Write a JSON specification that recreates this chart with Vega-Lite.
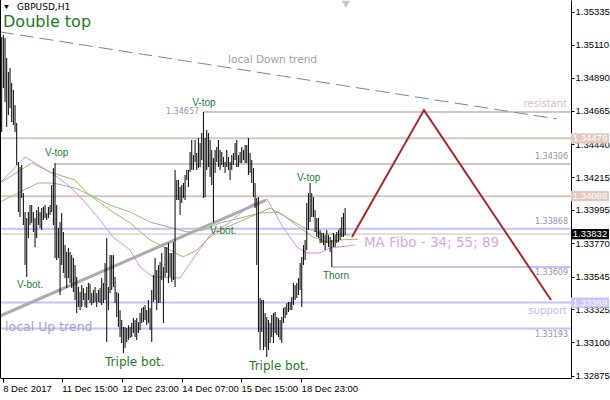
{
"$schema": "https://vega.github.io/schema/vega-lite/v6.json",
"width": 571, "height": 378,
"autosize": {"type": "none"},
"padding": {"left": 0, "top": 0, "right": 39, "bottom": 22},
"background": "white",
"config": {"view": {"stroke": null}, "axis": {"grid": false}},
"datasets": {
"bars": [
{"i":0,"p":1.35164,"l":1.34522},{"i":1,"p":1.35177,"l":1.34819},{"i":2,"p":1.35157,"l":1.34724},{"i":3,"p":1.35022,"l":1.34556},{"i":4,"p":1.34927,"l":1.34637},{"i":5,"p":1.34954,"l":1.34684},{"i":6,"p":1.34853,"l":1.34589},{"i":7,"p":1.34806,"l":1.34569},{"i":8,"p":1.34704,"l":1.34522},{"i":9,"p":1.34583,"l":1.34299},
{"i":10,"p":1.34319,"l":1.33981},{"i":11,"p":1.34285,"l":1.33947},{"i":12,"p":1.34299,"l":1.34076},{"i":13,"p":1.34109,"l":1.33893},{"i":14,"p":1.33981,"l":1.33623},{"i":15,"p":1.3394,"l":1.33542},{"i":16,"p":1.33981,"l":1.33805},{"i":17,"p":1.34028,"l":1.33893},{"i":18,"p":1.34028,"l":1.33907},{"i":19,"p":1.33981,"l":1.33846},
{"i":20,"p":1.3394,"l":1.33744},{"i":21,"p":1.33994,"l":1.33805},{"i":22,"p":1.34015,"l":1.33893},{"i":23,"p":1.33981,"l":1.33873},{"i":24,"p":1.34008,"l":1.33859},{"i":25,"p":1.34015,"l":1.33927},{"i":26,"p":1.34028,"l":1.3394},{"i":27,"p":1.33974,"l":1.33927},{"i":28,"p":1.34015,"l":1.3394},{"i":29,"p":1.34028,"l":1.33961},
{"i":30,"p":1.34163,"l":1.33981},{"i":31,"p":1.34278,"l":1.33893},{"i":32,"p":1.34312,"l":1.3367},{"i":33,"p":1.34028,"l":1.33656},{"i":34,"p":1.33873,"l":1.3367},{"i":35,"p":1.33913,"l":1.3342},{"i":36,"p":1.33974,"l":1.33623},{"i":37,"p":1.33846,"l":1.33569},{"i":38,"p":1.33758,"l":1.33535},{"i":39,"p":1.33711,"l":1.33467},
{"i":40,"p":1.33738,"l":1.33535},{"i":41,"p":1.33711,"l":1.33501},{"i":42,"p":1.3369,"l":1.33467},{"i":43,"p":1.3367,"l":1.3344},{"i":44,"p":1.33623,"l":1.33386},{"i":45,"p":1.33542,"l":1.33298},{"i":46,"p":1.33474,"l":1.33339},{"i":47,"p":1.3344,"l":1.33318},{"i":48,"p":1.33487,"l":1.33339},{"i":49,"p":1.33467,"l":1.33386},
{"i":50,"p":1.33433,"l":1.33339},{"i":51,"p":1.33474,"l":1.33332},{"i":52,"p":1.33501,"l":1.33386},{"i":53,"p":1.33494,"l":1.33366},{"i":54,"p":1.33433,"l":1.33352},{"i":55,"p":1.33454,"l":1.33366},{"i":56,"p":1.33474,"l":1.33373},{"i":57,"p":1.33433,"l":1.33339},{"i":58,"p":1.33454,"l":1.33373},{"i":59,"p":1.33467,"l":1.33366},
{"i":60,"p":1.33535,"l":1.33352},{"i":61,"p":1.33501,"l":1.33366},{"i":62,"p":1.33636,"l":1.33386},{"i":63,"p":1.33805,"l":1.33102},{"i":64,"p":1.33474,"l":1.33318},{"i":65,"p":1.3369,"l":1.33433},{"i":66,"p":1.3369,"l":1.33454},{"i":67,"p":1.3369,"l":1.33474},{"i":68,"p":1.33542,"l":1.33366},{"i":69,"p":1.3344,"l":1.33271},
{"i":70,"p":1.33433,"l":1.33204},{"i":71,"p":1.33318,"l":1.33136},{"i":72,"p":1.33251,"l":1.33095},{"i":73,"p":1.33204,"l":1.33028},{"i":74,"p":1.33204,"l":1.33062},{"i":75,"p":1.33197,"l":1.33102},{"i":76,"p":1.33217,"l":1.33116},{"i":77,"p":1.33204,"l":1.33129},{"i":78,"p":1.33231,"l":1.33136},{"i":79,"p":1.33264,"l":1.33163},
{"i":80,"p":1.33251,"l":1.33136},{"i":81,"p":1.33264,"l":1.33116},{"i":82,"p":1.33237,"l":1.33163},{"i":83,"p":1.33298,"l":1.33183},{"i":84,"p":1.33332,"l":1.33231},{"i":85,"p":1.33339,"l":1.33237},{"i":86,"p":1.33352,"l":1.33251},{"i":87,"p":1.33318,"l":1.33217},{"i":88,"p":1.33386,"l":1.33231},{"i":89,"p":1.33332,"l":1.33183},
{"i":90,"p":1.33454,"l":1.33102},{"i":91,"p":1.33555,"l":1.33373},{"i":92,"p":1.3367,"l":1.33386},{"i":93,"p":1.33589,"l":1.33318},{"i":94,"p":1.33623,"l":1.33366},{"i":95,"p":1.33643,"l":1.33366},{"i":96,"p":1.33704,"l":1.33521},{"i":97,"p":1.33609,"l":1.33231},{"i":98,"p":1.33744,"l":1.33542},{"i":99,"p":1.33744,"l":1.33569},
{"i":100,"p":1.33771,"l":1.33501},{"i":101,"p":1.33704,"l":1.33542},{"i":102,"p":1.33704,"l":1.33508},{"i":103,"p":1.33778,"l":1.33521},{"i":104,"p":1.34265,"l":1.33474},{"i":105,"p":1.34197,"l":1.34062},{"i":106,"p":1.34197,"l":1.34062},{"i":107,"p":1.3415,"l":1.33961},{"i":108,"p":1.34163,"l":1.34042},{"i":109,"p":1.34177,"l":1.34076},
{"i":110,"p":1.34231,"l":1.34062},{"i":111,"p":1.34265,"l":1.34197},{"i":112,"p":1.34265,"l":1.3415},{"i":113,"p":1.34387,"l":1.34251},{"i":114,"p":1.34468,"l":1.34265},{"i":115,"p":1.34366,"l":1.34265},{"i":116,"p":1.34468,"l":1.34319},{"i":117,"p":1.3438,"l":1.34265},{"i":118,"p":1.34481,"l":1.34278},{"i":119,"p":1.34447,"l":1.34285},
{"i":120,"p":1.34515,"l":1.34332},{"i":121,"p":1.34657,"l":1.34076},{"i":122,"p":1.34481,"l":1.34082},{"i":123,"p":1.34535,"l":1.34265},{"i":124,"p":1.34515,"l":1.34285},{"i":125,"p":1.34468,"l":1.34218},{"i":126,"p":1.344,"l":1.34163},{"i":127,"p":1.34346,"l":1.33913},{"i":128,"p":1.344,"l":1.34245},{"i":129,"p":1.3442,"l":1.34319},
{"i":130,"p":1.34468,"l":1.34285},{"i":131,"p":1.344,"l":1.34265},{"i":132,"p":1.34387,"l":1.34299},{"i":133,"p":1.34353,"l":1.34285},{"i":134,"p":1.34319,"l":1.34245},{"i":135,"p":1.344,"l":1.34285},{"i":136,"p":1.34353,"l":1.34265},{"i":137,"p":1.34319,"l":1.34197},{"i":138,"p":1.34366,"l":1.34265},{"i":139,"p":1.3438,"l":1.34299},
{"i":140,"p":1.34447,"l":1.34332},{"i":141,"p":1.34468,"l":1.34285},{"i":142,"p":1.34366,"l":1.34285},{"i":143,"p":1.34387,"l":1.34312},{"i":144,"p":1.3442,"l":1.34312},{"i":145,"p":1.344,"l":1.34332},{"i":146,"p":1.34434,"l":1.34312},{"i":147,"p":1.34434,"l":1.34312},{"i":148,"p":1.34481,"l":1.34231},{"i":149,"p":1.3438,"l":1.34245},
{"i":150,"p":1.34332,"l":1.34177},{"i":151,"p":1.34278,"l":1.34082},{"i":152,"p":1.34177,"l":1.34008},{"i":153,"p":1.34076,"l":1.33623},{"i":154,"p":1.34082,"l":1.3317},{"i":155,"p":1.334,"l":1.33048},{"i":156,"p":1.33386,"l":1.3317},{"i":157,"p":1.33386,"l":1.33048},{"i":158,"p":1.33298,"l":1.33068},{"i":159,"p":1.33271,"l":1.33001},
{"i":160,"p":1.33251,"l":1.33048},{"i":161,"p":1.33231,"l":1.33095},{"i":162,"p":1.33285,"l":1.33136},{"i":163,"p":1.33298,"l":1.33095},{"i":164,"p":1.33305,"l":1.33163},{"i":165,"p":1.33271,"l":1.33149},{"i":166,"p":1.33264,"l":1.33136},{"i":167,"p":1.33251,"l":1.33116},{"i":168,"p":1.33271,"l":1.33095},{"i":169,"p":1.33332,"l":1.33231},
{"i":170,"p":1.33339,"l":1.33264},{"i":171,"p":1.33366,"l":1.33285},{"i":172,"p":1.33373,"l":1.33305},{"i":173,"p":1.33373,"l":1.33318},{"i":174,"p":1.33406,"l":1.33318},{"i":175,"p":1.33501,"l":1.33352},{"i":176,"p":1.33487,"l":1.33386},{"i":177,"p":1.33501,"l":1.334},{"i":178,"p":1.33535,"l":1.3342},{"i":179,"p":1.33636,"l":1.33454},
{"i":180,"p":1.33677,"l":1.33339},{"i":181,"p":1.33758,"l":1.33623},{"i":182,"p":1.33792,"l":1.33656},{"i":183,"p":1.34042,"l":1.33724},{"i":184,"p":1.34109,"l":1.33859},{"i":185,"p":1.34177,"l":1.33913},{"i":186,"p":1.34109,"l":1.33947},{"i":187,"p":1.34082,"l":1.33947},{"i":188,"p":1.33994,"l":1.33846},{"i":189,"p":1.3394,"l":1.33812},
{"i":190,"p":1.3394,"l":1.33805},{"i":191,"p":1.33859,"l":1.33771},{"i":192,"p":1.33839,"l":1.33771},{"i":193,"p":1.33839,"l":1.33758},{"i":194,"p":1.33825,"l":1.33724},{"i":195,"p":1.33859,"l":1.33771},{"i":196,"p":1.33825,"l":1.33744},{"i":197,"p":1.33812,"l":1.33711},{"i":198,"p":1.33792,"l":1.33609},{"i":199,"p":1.33839,"l":1.33744},
{"i":200,"p":1.33825,"l":1.33744},{"i":201,"p":1.33846,"l":1.33771},{"i":202,"p":1.33859,"l":1.33778},{"i":203,"p":1.33873,"l":1.33792},{"i":204,"p":1.33947,"l":1.33812},{"i":205,"p":1.33974,"l":1.33812},{"i":206,"p":1.34008,"l":1.33825}
],
"levels": [
{"p":1.34657,"i":121,"k":"r"},{"p":1.34479,"i":-1.02,"k":"r"},{"p":1.34306,"i":32,"k":"r"},{"p":1.34088,"i":-1.02,"k":"r"},
{"p":1.33868,"i":-1.02,"k":"s"},{"p":1.33609,"i":198,"k":"s"},{"p":1.33369,"i":-1.02,"k":"s"},{"p":1.33193,"i":-1.02,"k":"s"}
],
"bid": [{"p":1.33832,"i":-1.02}],
"boxes": [{"p":1.34479,"k":"r","i":352.9},{"p":1.34088,"k":"r","i":352.9},{"p":1.33832,"k":"b","i":352.9},{"p":1.33369,"k":"s","i":352.9}],
"down": [{"i":-1.02,"p":1.35198,"i2":333.1,"p2":1.3461}],
"up": [{"i":-1.02,"p":1.33278,"i2":158.6,"p2":1.34062}],
"proj": [{"i":210.1,"p":1.33812},{"i":253.3,"p":1.3467},{"i":329.5,"p":1.33386}],
"ma": [
{"m":"a","i":-1.02,"p":1.34177},{"m":"a","i":14,"p":1.34353},{"m":"a","i":29,"p":1.34251},{"m":"a","i":39.2,"p":1.3417},{"m":"a","i":48.8,"p":1.34062},{"m":"a","i":59,"p":1.33927},{"m":"a","i":66.8,"p":1.33812},{"m":"a","i":77,"p":1.33724},{"m":"a","i":83,"p":1.33609},{"m":"a","i":90.8,"p":1.33542},{"m":"a","i":107,"p":1.33535},{"m":"a","i":117.2,"p":1.33704},{"m":"a","i":125,"p":1.33825},{"m":"a","i":137,"p":1.33913},{"m":"a","i":149,"p":1.34028},{"m":"a","i":159.1,"p":1.34069},{"m":"a","i":168.7,"p":1.33879},{"m":"a","i":177.1,"p":1.33744},{"m":"a","i":183.1,"p":1.33704},{"m":"a","i":190.9,"p":1.33704},{"m":"a","i":197,"p":1.33738},{"m":"a","i":212,"p":1.33758},
{"m":"b","i":-1.02,"p":1.34177},{"m":"b","i":18.2,"p":1.34312},{"m":"b","i":29,"p":1.34251},{"m":"b","i":44,"p":1.34197},{"m":"b","i":51.2,"p":1.34109},{"m":"b","i":65,"p":1.33994},{"m":"b","i":77,"p":1.33907},{"m":"b","i":89,"p":1.33792},{"m":"b","i":101,"p":1.33724},{"m":"b","i":108.8,"p":1.33677},{"m":"b","i":117.2,"p":1.33724},{"m":"b","i":125,"p":1.33812},{"m":"b","i":135.2,"p":1.33879},{"m":"b","i":149,"p":1.33947},{"m":"b","i":161,"p":1.34008},{"m":"b","i":168.7,"p":1.33961},{"m":"b","i":179,"p":1.33873},{"m":"b","i":186.7,"p":1.33812},{"m":"b","i":195.1,"p":1.33778},{"m":"b","i":203,"p":1.33792},{"m":"b","i":213.7,"p":1.33798},
{"m":"c","i":-1.02,"p":1.34048},{"m":"c","i":21.8,"p":1.34177},{"m":"c","i":30.8,"p":1.34177},{"m":"c","i":44,"p":1.34143},{"m":"c","i":53,"p":1.34096},{"m":"c","i":65,"p":1.34028},{"m":"c","i":77,"p":1.33981},{"m":"c","i":89,"p":1.33913},{"m":"c","i":98,"p":1.33886},{"m":"c","i":111.2,"p":1.33846},{"m":"c","i":120.8,"p":1.33859},{"m":"c","i":131,"p":1.33907},{"m":"c","i":143,"p":1.3394},{"m":"c","i":155,"p":1.33974},{"m":"c","i":165.7,"p":1.33981},{"m":"c","i":180.7,"p":1.33879},{"m":"c","i":192.7,"p":1.33832},{"m":"c","i":209,"p":1.33825}
],
"marks": [{"i":2.9,"p":1.35367,"k":"a"},{"i":206.5,"p":1.35385,"k":"b"}],
"txt": [
{"g":"title","i":9.2,"p":1.35367,"t":"GBPUSD,H1"},
{"g":"big","i":0.8,"p":1.35265,"t":"Double top"},
{"g":"tb","i":62,"p":1.32967,"t":"Triple bot."},
{"g":"tb","i":148.4,"p":1.3294,"t":"Triple bot."},
{"g":"sm","i":26,"p":1.3438,"t":"V-top"},
{"g":"sm","i":9.2,"p":1.33487,"t":"V-bot."},
{"g":"sm","i":114.3,"p":1.34718,"t":"V-top"},
{"g":"sm","i":125,"p":1.33852,"t":"V-bot."},
{"g":"sm","i":177.1,"p":1.34211,"t":"V-top"},
{"g":"sm","i":192.7,"p":1.33548,"t":"Thorn"},
{"g":"down","i":135.8,"p":1.35008,"t":"local Down trend"},
{"g":"up","i":2,"p":1.33203,"t":"local  Up trend"},
{"g":"ma","i":217.3,"p":1.33771,"t":"MA Fibo - 34; 55; 89"},
{"g":"res","i":339.1,"p":1.34711,"t":"resistant"},
{"g":"sup","i":339.1,"p":1.33312,"t":"support"},
{"g":"pl","i":339.7,"p":1.34353,"t":"1.34306"},
{"g":"pl","i":339.7,"p":1.33913,"t":"1.33868"},
{"g":"pl","i":339.7,"p":1.33569,"t":"1.33609"},
{"g":"pl","i":339.7,"p":1.33149,"t":"1.33193"},
{"g":"pl","i":118.4,"p":1.34657,"t":"1.34657"}
]
},
"encoding": {
"x": {"field": "i", "type": "quantitative", "scale": {"domain": [-1.02, 341.5], "nice": false, "zero": false},
 "axis": {"orient": "bottom", "title": null, "values": [0.6, 36, 72, 108, 143.6, 179.6],
  "labelExpr": "datum.value < 10 ? '8 Dec 2017' : datum.value < 50 ? '11 Dec 15:00' : datum.value < 90 ? '12 Dec 23:00' : datum.value < 120 ? '14 Dec 07:00' : datum.value < 160 ? '15 Dec 15:00' : '18 Dec 23:00'",
  "labelAlign": "left", "labelBaseline": "top", "labelFont": "Liberation Sans", "labelFontSize": 9.5, "labelColor": "black", "labelPadding": 1, "labelDx": -1,
  "tickSize": 4, "tickColor": "black", "domainColor": "black", "labelFlush": false, "labelOverlap": false}},
"y": {"field": "p", "type": "quantitative", "scale": {"domain": [1.32859, 1.35414], "nice": false, "zero": false},
 "axis": {"orient": "right", "title": null, "values": [1.35335, 1.3511, 1.3489, 1.34665, 1.3444, 1.34215, 1.33995, 1.3377, 1.33545, 1.33325, 1.331, 1.32875],
  "format": ".5f", "labelFont": "Liberation Sans", "labelFontSize": 9.5, "labelColor": "black", "tickSize": 3, "labelPadding": 1,
  "tickColor": "black", "domainColor": "black", "labelFlush": false, "labelOverlap": false, "labelBaseline": "middle"}}
},
"layer": [
{"data": {"name": "levels"}, "mark": {"type": "rule", "strokeWidth": 2},
 "encoding": {"x2": {"datum": 341.5}, "color": {"field": "k", "type": "nominal", "scale": {"domain": ["r", "s"], "range": ["#DCC4BE", "#C2C2F6"]}, "legend": null}}},
{"data": {"name": "bid"}, "mark": {"type": "rule", "strokeWidth": 1, "color": "#C0C0C0"},
 "encoding": {"x2": {"datum": 341.5}}},
{"data": {"name": "ma"}, "mark": {"type": "line", "strokeWidth": 1},
 "encoding": {"color": {"field": "m", "type": "nominal", "scale": {"domain": ["a", "b", "c"], "range": ["#E68AE6", "#B8AE5C", "#88BE88"]}, "legend": null}}},
{"data": {"name": "down"}, "mark": {"type": "rule", "strokeWidth": 1, "color": "#778899", "strokeDash": [14, 6]},
 "encoding": {"x2": {"field": "i2"}, "y2": {"field": "p2"}}},
{"data": {"name": "up"}, "mark": {"type": "rule", "strokeWidth": 3, "color": "#ABABAB"},
 "encoding": {"x2": {"field": "i2"}, "y2": {"field": "p2"}}},
{"data": {"name": "bars"}, "mark": {"type": "rule", "strokeWidth": 1, "color": "black"},
 "encoding": {"y2": {"field": "l"}}},
{"data": {"name": "proj"}, "mark": {"type": "line", "strokeWidth": 2, "color": "#A52A2A"},
 "encoding": {}},
{"data": {"name": "marks"}, "mark": {"type": "point", "shape": "triangle-down", "filled": true, "opacity": 1},
 "encoding": {"color": {"field": "k", "type": "nominal", "scale": {"domain": ["a", "b"], "range": ["black", "#C8C8C8"]}, "legend": null},
  "size": {"field": "k", "type": "nominal", "scale": {"domain": ["a", "b"], "range": [22, 70]}, "legend": null}}},
{"data": {"name": "bid"}, "mark": {"type": "rule", "color": "black", "strokeWidth": 1},
 "encoding": {"x": {"datum": -0.72}, "y": {"datum": 1.32859}, "y2": {"datum": 1.35414}}},
{"data": {"name": "txt"}, "transform": [{"filter": "datum.g == 'title'"}],
 "mark": {"type": "text", "align": "left", "baseline": "middle", "font": "DejaVu Sans", "fontSize": 9, "color": "black"},
 "encoding": {"text": {"field": "t"}}},
{"data": {"name": "txt"}, "transform": [{"filter": "datum.g == 'big'"}],
 "mark": {"type": "text", "align": "left", "baseline": "middle", "font": "DejaVu Sans", "fontSize": 16, "color": "#1E7A1E"},
 "encoding": {"text": {"field": "t"}}},
{"data": {"name": "txt"}, "transform": [{"filter": "datum.g == 'tb'"}],
 "mark": {"type": "text", "align": "left", "baseline": "middle", "font": "DejaVu Sans", "fontSize": 12, "color": "#1E7A1E"},
 "encoding": {"text": {"field": "t"}}},
{"data": {"name": "txt"}, "transform": [{"filter": "datum.g == 'sm'"}],
 "mark": {"type": "text", "align": "left", "baseline": "middle", "font": "Liberation Sans", "fontSize": 10, "color": "#1E7A3A"},
 "encoding": {"text": {"field": "t"}}},
{"data": {"name": "txt"}, "transform": [{"filter": "datum.g == 'down'"}],
 "mark": {"type": "text", "align": "left", "baseline": "middle", "font": "DejaVu Sans", "fontSize": 10.5, "color": "#A0A0A0"},
 "encoding": {"text": {"field": "t"}}},
{"data": {"name": "txt"}, "transform": [{"filter": "datum.g == 'up'"}],
 "mark": {"type": "text", "align": "left", "baseline": "middle", "font": "DejaVu Sans", "fontSize": 12.5, "color": "#A2A2CC"},
 "encoding": {"text": {"field": "t"}}},
{"data": {"name": "txt"}, "transform": [{"filter": "datum.g == 'ma'"}],
 "mark": {"type": "text", "align": "left", "baseline": "middle", "font": "DejaVu Sans", "fontSize": 13.5, "color": "#DDA6DD"},
 "encoding": {"text": {"field": "t"}}},
{"data": {"name": "txt"}, "transform": [{"filter": "datum.g == 'res'"}],
 "mark": {"type": "text", "align": "right", "baseline": "middle", "font": "DejaVu Sans", "fontSize": 10, "color": "#DDBDB6"},
 "encoding": {"text": {"field": "t"}}},
{"data": {"name": "txt"}, "transform": [{"filter": "datum.g == 'sup'"}],
 "mark": {"type": "text", "align": "right", "baseline": "middle", "font": "DejaVu Sans", "fontSize": 10, "color": "#BCBCEE"},
 "encoding": {"text": {"field": "t"}}},
{"data": {"name": "txt"}, "transform": [{"filter": "datum.g == 'pl'"}],
 "mark": {"type": "text", "align": "right", "baseline": "middle", "font": "DejaVu Sans", "fontSize": 8, "color": "#8C97AC"},
 "encoding": {"text": {"field": "t"}}},
{"data": {"name": "boxes"}, "mark": {"type": "point", "shape": "M-1,-0.27L1,-0.27L1,0.27L-1,0.27Z", "filled": true, "opacity": 1, "strokeWidth": 0, "size": 1444, "clip": false},
 "encoding": {"color": {"field": "k", "type": "nominal", "scale": {"domain": ["r", "b", "s"], "range": ["#E2C8C2", "black", "#C6C6F8"]}, "legend": null}}},
{"data": {"name": "boxes"}, "mark": {"type": "text", "align": "center", "baseline": "middle", "font": "Liberation Sans", "fontSize": 9.5, "color": "white", "clip": false},
 "encoding": {"text": {"field": "p", "format": ".5f"}}}
],
"resolve": {"scale": {"color": "independent", "size": "independent"}}
}
